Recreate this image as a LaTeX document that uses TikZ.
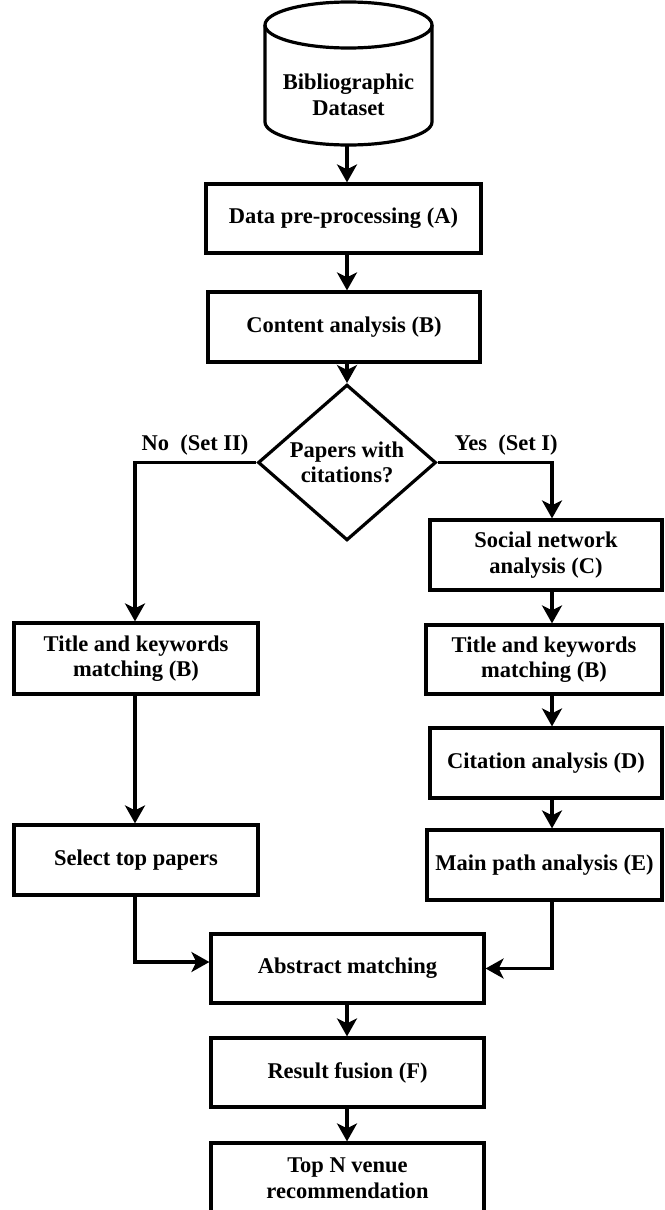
\documentclass[tikz,border=0pt]{standalone}
\usepackage{fontspec}
\setmainfont{Liberation Serif}
\usetikzlibrary{shapes.geometric,arrows.meta,calc}

\begin{document}
\begin{tikzpicture}[x=1pt, y=-1pt, line width=3.2pt,
  lbl/.style={font=\bfseries\fontsize{22.5}{25.5}\selectfont, align=center, inner sep=0pt},
  box/.style={lbl, draw, rectangle, minimum width=#1, minimum height=70pt},
  box/.default=273pt,
  decision/.style={lbl, draw, diamond, minimum width=178pt, minimum height=135pt},
  flow/.style={-{Stealth[length=18pt,width=20pt,inset=5pt]}},
  link/.style={line join=miter}
]
\useasboundingbox (0,0) rectangle (664,1210);
\fill[white] (0,0) rectangle (664,1210);

% column guides
\coordinate (cx) at (347,0);
\coordinate (lx) at (135,0);
\coordinate (rx) at (552,0);

% database cylinder
\draw (348.5,25) ellipse [x radius=83.5pt, y radius=23pt];
\draw (265,25) -- (265,122) arc[start angle=180, end angle=360, x radius=83.5pt, y radius=23pt] -- (432,25);
\node[lbl] (db) at (348.5,95) {Bibliographic\\Dataset};
\coordinate (dbbot) at (347,145);

% main column
\node[box=275pt, minimum height=69pt] (dp) at (343.5,218.5) {Data pre-processing (A)};
\node[box=272pt] (ca) at (344,327) {Content analysis (B)};
\node[decision] (dec) at (347,462.5) {Papers with\\citations?};

\node[lbl] (no) at (195,445) {No\ \ (Set II)};
\node[lbl, anchor=west] (yes) at (453,445) {Yes\ \ (Set I)};

% Set II branch
\node[box=244pt, minimum height=71pt] (ltk) at (136,658.5) {Title and keywords\\matching (B)};
\node[box=244pt] (sel) at (136,860) {Select top papers};

% Set I branch
\node[box=232pt] (sna) at (546,555) {Social network\\analysis (C)};
\node[box=236pt, minimum height=69pt] (rtk) at (544,659.5) {Title and keywords\\matching (B)};
\node[box=232pt] (cit) at (546,763) {Citation analysis (D)};
\node[box=235pt] (mpa) at (544.5,865) {Main path analysis (E)};

% merge and output
\node[box, minimum height=69pt] (abs) at (347.5,968.5) {Abstract matching};
\node[box, minimum height=69pt] (res) at (347.5,1072.5) {Result fusion (F)};
\node[box] (top) at (347.5,1178) {Top N venue\\recommendation};

% connectors
\draw[flow] (dbbot) -- (dp.north -| cx);
\draw[flow] (dp.south -| cx) -- (ca.north -| cx);
\draw[flow] (ca.south -| cx) -- (dec.north);
\draw[flow, link] (dec.west) -| (ltk.north -| lx);
\draw[flow, link] (dec.east) -| (sna.north -| rx);
\draw[flow] (ltk.south -| lx) -- (sel.north -| lx);
\draw[flow] (sna.south -| rx) -- (rtk.north -| rx);
\draw[flow] (rtk.south -| rx) -- (cit.north -| rx);
\draw[flow] (cit.south -| rx) -- (mpa.north -| rx);
\draw[flow, link] (sel.south -| lx) |- ([yshift=6.5pt]abs.west);
\draw[flow, link] (mpa.south -| rx) |- (abs.east);
\draw[flow] (abs.south -| cx) -- (res.north -| cx);
\draw[flow] (res.south -| cx) -- (top.north -| cx);
\end{tikzpicture}
\end{document}
